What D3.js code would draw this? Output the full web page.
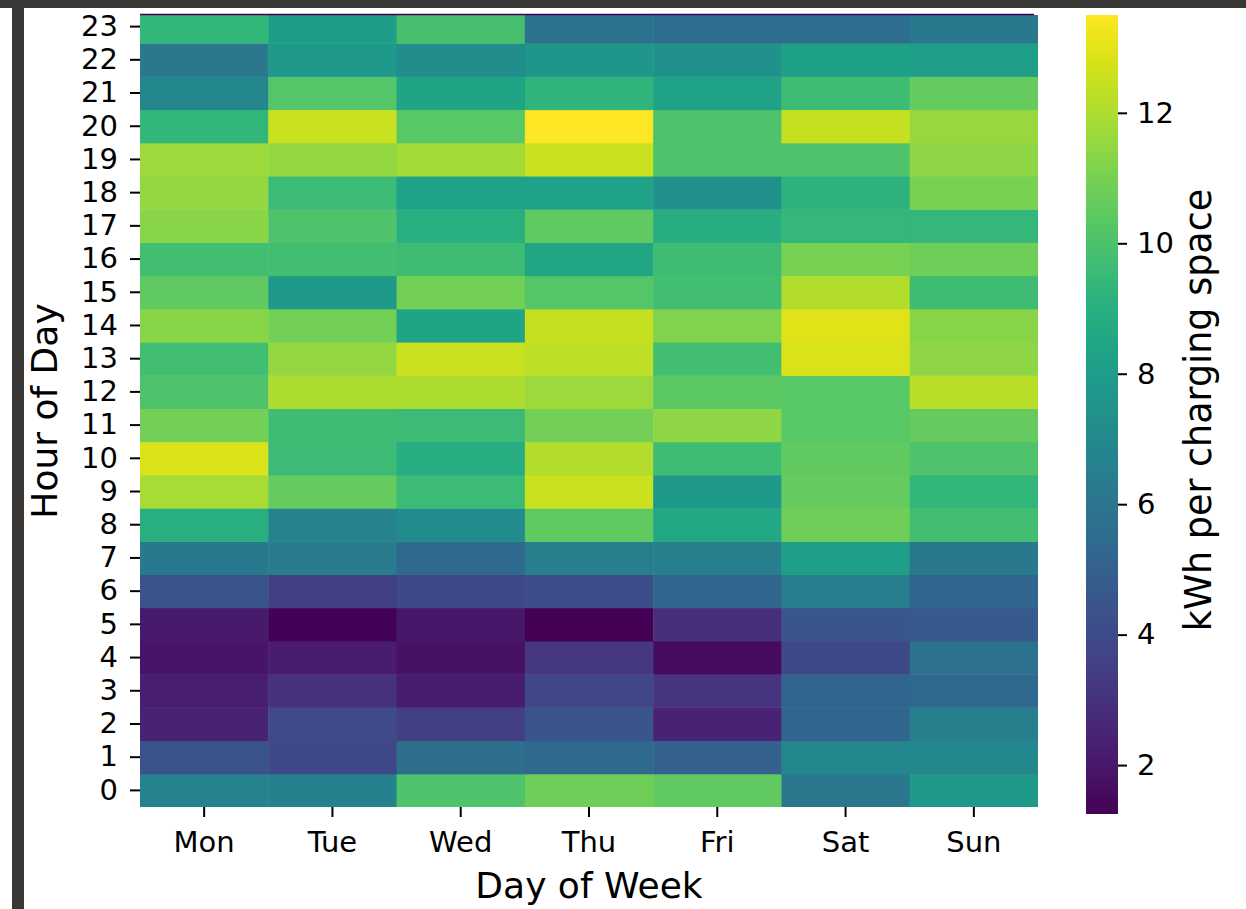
<!DOCTYPE html>
<html>
<head>
<meta charset="utf-8">
<script src="https://cdn.jsdelivr.net/npm/d3@7"></script>
<style>
  body { margin: 0; background: #fff; }
  svg { display: block; font-family: "DejaVu Sans", sans-serif; }
</style>
</head>
<body>
<div id="chart"></div>
<script>
(function(){
  // hours run 0..23, one array per weekday
  const days = ["Mon", "Tue", "Wed", "Thu", "Fri", "Sat", "Sun"];
  const hours = d3.range(24);

  const monValues = [6.7, 4.4, 2.4, 2.3, 1.9, 2.1, 4.4, 6.2, 9.0, 11.9, 12.8, 10.9, 10.1, 9.8, 11.3, 10.5, 9.8, 11.3, 11.5, 11.7, 9.3, 6.9, 6.1, 9.3];
  const tueValues = [6.6, 3.9, 4.0, 3.0, 2.2, 1.3, 3.5, 6.3, 6.7, 10.6, 9.6, 9.7, 12.0, 11.5, 10.9, 7.9, 9.8, 10.1, 9.6, 11.5, 12.5, 10.2, 7.9, 8.0];
  const wedValues = [10.1, 5.7, 3.5, 2.2, 1.8, 2.0, 3.9, 5.4, 7.1, 9.6, 8.9, 9.6, 12.0, 12.5, 8.4, 10.9, 9.7, 9.0, 8.3, 11.8, 10.3, 8.4, 7.2, 9.9];
  const thuValues = [10.8, 5.4, 4.5, 3.8, 3.2, 1.25, 4.1, 6.5, 10.5, 12.5, 12.1, 10.9, 11.7, 12.3, 12.4, 10.2, 8.5, 10.5, 8.3, 12.5, 13.5, 9.2, 7.7, 5.9];
  const friValues = [10.5, 5.0, 2.4, 3.1, 1.6, 2.9, 5.3, 6.5, 8.6, 7.9, 9.7, 11.4, 10.4, 9.8, 11.2, 9.8, 9.7, 8.9, 7.4, 10.1, 10.1, 8.3, 7.4, 5.6];
  const satValues = [6.1, 6.9, 5.2, 5.2, 3.9, 4.5, 6.4, 8.1, 10.8, 10.6, 10.5, 10.3, 10.3, 12.8, 12.9, 12.1, 11.0, 9.4, 9.1, 10.1, 12.4, 9.7, 8.2, 5.6];
  const sunValues = [7.9, 6.9, 6.5, 5.4, 5.8, 4.6, 5.2, 6.2, 9.8, 9.3, 10.1, 10.6, 12.2, 11.4, 11.3, 9.7, 10.8, 9.4, 11.0, 11.4, 11.6, 10.6, 8.1, 6.2];

  const colorTicks = [2, 4, 6, 8, 10, 12];

  const seriesByDay = [monValues, tueValues, wedValues, thuValues, friValues, satValues, sunValues];
  const cells = [];
  days.forEach((day, i) => {
    seriesByDay[i].forEach((v, h) => cells.push({ day: day, hour: h, value: v }));
  });

  const width = 1246, height = 909;
  const plot = { left: 140, right: 1038, top: 10, bottom: 807, clipTop: 15 };
  const bar = { x: 1086, w: 32, top: 15, bottom: 814 };

  const svg = d3.select("#chart")
    .append("svg")
    .attr("width", width)
    .attr("height", height);

  // dark window frame seen in the screenshot
  svg.append("rect").attr("x", 0).attr("y", 0).attr("width", width).attr("height", 8).attr("fill", "#393836");
  svg.append("rect").attr("x", 12).attr("y", 0).attr("width", 12).attr("height", height).attr("fill", "#393836");

  const xScale = d3.scaleBand()
    .domain(days)
    .range([plot.left, plot.right]);

  const yScale = d3.scaleBand()
    .domain(hours)
    .range([plot.bottom, plot.top]);

  const extent = d3.extent(cells, d => d.value);
  const color = d3.scaleSequential(d3.interpolateViridis).domain(extent);

  svg.append("clipPath")
    .attr("id", "plot-clip")
    .append("rect")
    .attr("x", plot.left)
    .attr("y", plot.clipTop)
    .attr("width", plot.right - plot.left)
    .attr("height", plot.bottom - plot.clipTop);

  svg.append("g")
    .attr("clip-path", "url(#plot-clip)")
    .selectAll("rect")
    .data(cells)
    .join("rect")
    .attr("x", d => xScale(d.day))
    .attr("y", d => yScale(d.hour))
    .attr("width", xScale.bandwidth() + 0.5)
    .attr("height", yScale.bandwidth() + 0.5)
    .attr("fill", d => color(d.value));

  // thin dark edge along the top of the map
  svg.append("line")
    .attr("x1", plot.left).attr("x2", plot.right - 4)
    .attr("y1", 14.5).attr("y2", 14.5)
    .attr("stroke", "#440154")
    .attr("stroke-width", 1.5);

  const xAxis = svg.append("g")
    .attr("transform", `translate(0,${plot.bottom})`)
    .call(d3.axisBottom(xScale).tickSize(10).tickPadding(14));

  const yAxis = svg.append("g")
    .attr("transform", `translate(${plot.left},0)`)
    .call(d3.axisLeft(yScale).tickSize(10).tickPadding(12));

  // colour bar
  const barScale = d3.scaleLinear()
    .domain(extent)
    .range([bar.bottom, bar.top]);

  const grad = svg.append("defs")
    .append("linearGradient")
    .attr("id", "viridis-grad")
    .attr("x1", 0).attr("y1", 1).attr("x2", 0).attr("y2", 0);

  grad.selectAll("stop")
    .data(d3.range(0, 1.0001, 0.02))
    .join("stop")
    .attr("offset", t => t)
    .attr("stop-color", t => d3.interpolateViridis(t));

  svg.append("rect")
    .attr("x", bar.x)
    .attr("y", bar.top)
    .attr("width", bar.w)
    .attr("height", bar.bottom - bar.top)
    .attr("fill", "url(#viridis-grad)");

  const cAxis = svg.append("g")
    .attr("transform", `translate(${bar.x + bar.w},0)`)
    .call(d3.axisRight(barScale).tickValues(colorTicks).tickSize(9).tickPadding(10));

  [xAxis, yAxis, cAxis].forEach(g => {
    g.select(".domain").remove();
    g.selectAll(".tick line").attr("stroke", "#000").attr("stroke-width", 2);
    g.selectAll(".tick text")
      .attr("fill", "#000")
      .attr("font-size", "29px")
      .attr("font-family", "DejaVu Sans, sans-serif");
  });

  svg.append("text")
    .attr("x", (plot.left + plot.right) / 2)
    .attr("y", 898)
    .attr("text-anchor", "middle")
    .attr("font-size", "36px")
    .attr("fill", "#000")
    .text("Day of Week");

  svg.append("text")
    .attr("transform", `translate(57,${(plot.clipTop + plot.bottom) / 2}) rotate(-90)`)
    .attr("text-anchor", "middle")
    .attr("font-size", "36px")
    .attr("fill", "#000")
    .text("Hour of Day");

  svg.append("text")
    .attr("transform", `translate(1211,410) rotate(-90)`)
    .attr("text-anchor", "middle")
    .attr("font-size", "36.5px")
    .attr("fill", "#000")
    .text("kWh per charging space");

})();
</script>
</body>
</html>
